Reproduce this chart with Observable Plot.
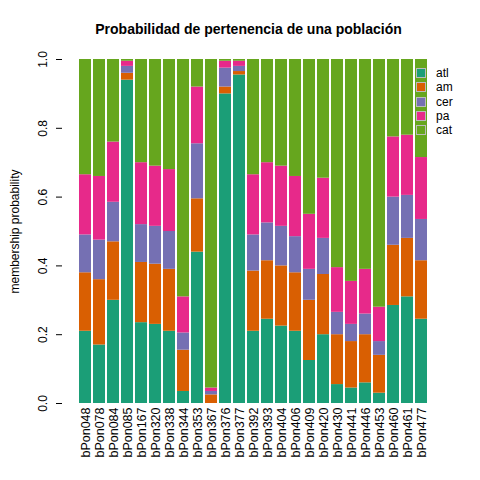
<!DOCTYPE html>
<html><head><meta charset="utf-8">
<script src="https://cdn.jsdelivr.net/npm/d3@7"></script>
<script src="https://cdn.jsdelivr.net/npm/@observablehq/plot@0.6"></script>
<style>
body{margin:0;width:480px;height:480px;overflow:hidden;background:#fff;font-family:"Liberation Sans",Arial,sans-serif;position:relative}
#title{position:absolute;top:21px;left:62px;width:373px;text-align:center;font-weight:bold;font-size:14px}
#legend{position:absolute;left:416px;top:66px;font-size:12px;line-height:14.3px;white-space:nowrap}
#legend span.b{display:inline-block;width:8px;height:8px;border:1px solid #bbb;margin-right:10px;vertical-align:-1px}
</style></head><body>
<div id="title">Probabilidad de pertenencia de una población</div>
<div id="chart"></div>
<div id="legend"></div>
<script>
const samples = ["bPon048","bPon078","bPon084","bPon085","bPon167","bPon320","bPon338","bPon344","bPon353","bPon367","bPon376","bPon377","bPon392","bPon393","bPon404","bPon406","bPon409","bPon420","bPon430","bPon441","bPon446","bPon453","bPon460","bPon461","bPon477"];
const groups = ["atl","am","cer","pa","cat"];
const colors = ["#1B9E77","#D95F02","#7570B3","#E7298A","#66A61E"];
// cumulative tops of atl, +am, +cer, +pa
const cumAtl = [.21,.17,.30,.94,.235,.23,.21,.035,.44,.0,.90,.955,.21,.245,.225,.21,.125,.20,.055,.045,.06,.03,.285,.31,.245];
const cumAm  = [.38,.36,.47,.96,.41,.405,.39,.155,.595,.025,.92,.965,.385,.415,.40,.38,.30,.375,.20,.18,.20,.14,.46,.48,.415];
const cumCer = [.49,.475,.585,.98,.52,.515,.50,.205,.755,.035,.975,.98,.49,.525,.515,.485,.39,.48,.265,.23,.26,.18,.60,.605,.535];
const cumPa  = [.665,.66,.76,.995,.70,.69,.68,.31,.92,.045,.995,.995,.665,.70,.69,.66,.55,.655,.395,.355,.39,.28,.775,.78,.715];

const rows = [];
samples.forEach((s, i) => {
  const c = [0, cumAtl[i], cumAm[i], cumCer[i], cumPa[i], 1];
  groups.forEach((g, j) => rows.push({s, g, p: c[j + 1] - c[j]}));
});

const plot = Plot.plot({
  width: 480, height: 480,
  marginTop: 59, marginBottom: 77, marginLeft: 62, marginRight: 45,
  style: {fontFamily: "Liberation Sans, Arial, sans-serif", fontSize: "12px", color: "#000"},
  x: {domain: samples, padding: 0.16, insetLeft: 9, label: null},
  y: {domain: [0, 1], ticks: [0, .2, .4, .6, .8, 1]},
  color: {domain: groups, range: colors},
  marks: [
    Plot.barY(rows, {x: "s", y: "p", fill: "g"}),
    Plot.axisX({tickRotate: -90, tickSize: 0, tickPadding: 4, fontSize: 12.5, label: null}),
    Plot.axisY({ticks: [0, .2, .4, .6, .8, 1], tickFormat: d3.format(".1f"), tickRotate: -90,
      tickSize: 6, tickPadding: 10, textAnchor: "middle", fontSize: 12, line: true,
      label: "membership probability", labelAnchor: "center", labelArrow: "none", labelOffset: 52})
  ]
});
document.getElementById("chart").appendChild(plot);

const leg = document.getElementById("legend");
groups.forEach((g, j) => {
  const d = document.createElement("div");
  d.innerHTML = `<span class="b" style="background:${colors[j]}"></span>${g}`;
  leg.appendChild(d);
});
</script></body></html>
